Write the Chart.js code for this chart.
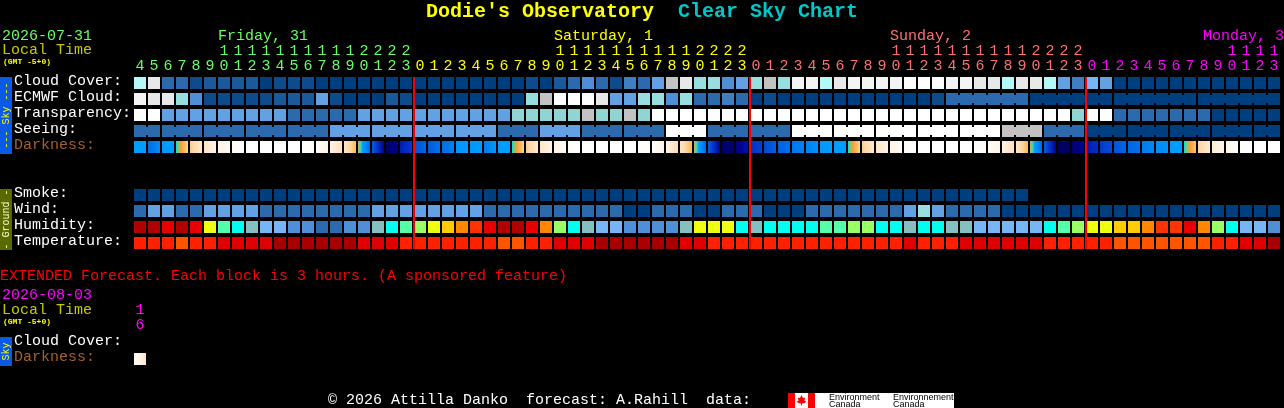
<!DOCTYPE html>
<html>
<head>
<meta charset="utf-8">
<title>Clear Sky Chart</title>
<script src="https://cdn.jsdelivr.net/npm/chart.js@4"></script>
<style>
  html, body { margin: 0; padding: 0; background: #000; }
  canvas { display: block; }
</style>
</head>
<body>
<canvas id="csc" width="1284" height="408"></canvas>
<script>
// Hour of each column, one column per hour
const hours = [
  4,5,6,7,8,9,10,11,12,13,14,15,16,17,18,19,20,21,22,23,
  0,1,2,3,4,5,6,7,8,9,10,11,12,13,14,15,16,17,18,19,20,21,22,23,
  0,1,2,3,4,5,6,7,8,9,10,11,12,13,14,15,16,17,18,19,20,21,22,23,
  0,1,2,3,4,5,6,7,8,9,10,11,12,13
];
const dayNames = ['Friday, 31', 'Saturday, 1', 'Sunday, 2', 'Monday, 3'];
const dayLabelColumn = [6, 30, 54, 78];
const midnightColumns = [20, 44, 68];

// Sky rows are class numbers, see skyColors
const cloudCover = [
  9,11,3,3,1,2,2,2,2,0,1,1,1,0,0,0,0,0,0,0,
  0,0,0,0,0,0,0,0,1,0,2,3,5,3,1,4,3,6,10,11,8,8,5,6,
  8,10,8,12,12,9,11,12,12,12,12,13,13,13,12,12,11,11,9,11,11,9,6,4,
  7,6,0,0,0,0,0,0,0,0,0,0,0,0
];
const ecmwfCloud = [
  12,11,11,8,5,1,1,1,1,1,2,2,2,6,1,0,0,0,2,1,
  0,0,0,0,0,0,0,0,8,10,13,13,13,11,6,6,8,8,5,8,3,3,4,3,
  0,1,0,0,0,0,0,0,0,0,0,0,0,1,3,3,3,3,3,3,0,0,0,0,
  0,0,0,0,0,0,0,0,0,0,0,0,0,0
];
const transparency = [
  13,13,6,6,6,6,6,6,6,6,6,3,3,3,3,3,6,6,6,6,
  6,6,6,6,6,6,6,14,14,14,14,14,10,14,14,10,14,13,13,13,13,13,13,13,
  13,13,13,13,13,13,13,13,13,13,13,13,13,13,13,13,13,13,13,13,13,13,13,14,
  13,13,3,3,3,3,3,3,3,0,0,0,0,0
];
const seeing = [
  3,3,3,3,3,3,3,3,3,3,3,3,3,3,6,6,6,6,6,6,
  6,6,6,6,6,6,3,3,3,6,6,6,3,3,3,3,3,3,13,13,13,3,3,3,
  3,3,3,13,13,13,13,13,13,13,13,13,13,13,13,13,13,13,10,10,10,3,3,3,
  0,0,0,0,0,0,0,0,0,0,0,0,0,0
];
// Darkness level at the left and right side of each block, see darknessRamp
const darknessStart = [
  4.1,3.2,4.0,4.4,5.8,6.5,7,7.5,8,8,8,8,8,7.8,7,6.5,4.9,3,0.3,1.6,
  2.7,2.9,3.2,3.9,4,3.5,4.1,4.4,5.8,6.5,7,7.6,8,8,8,8,8,7.8,7,6.4,4.9,3,0.4,0.8,
  2,2.5,3,3.4,3.6,4,4.1,4.4,5.8,6.5,7,7.6,8,8,8,8,8,7.6,7,6.5,4.9,3,0.2,0.5,
  1.5,2.2,2.8,3.1,3.5,3.8,4.1,4.4,5.9,6.7,7.2,8,8,8
];
const darknessEnd = [
  4.1,3.8,4.1,5.9,6.6,7,7.5,8,8,8,8,8,7.8,7,6.3,5.4,3.1,1,1,2.2,
  3.1,3.3,3.6,4.1,4.1,4,4.1,5.9,6.6,7,7.6,8,8,8,8,8,7.8,7,6.2,5.4,3.1,1,0.5,1.4,
  2.4,3,3.3,3.6,3.9,4.1,4.1,5.9,6.6,7,7.6,8,8,8,8,8,7.8,7,6.3,5.4,3.1,1,0.3,1.1,
  2,2.6,3.1,3.3,3.7,3.9,4.1,5.6,6.7,7.1,7.8,8,8,8
];
const smoke = [
  0,0,0,0,0,0,0,0,0,0,0,0,0,0,0,0,0,0,0,0,
  0,0,0,0,0,0,0,0,0,0,0,0,0,0,0,0,0,0,0,0,0,0,0,0,
  0,0,0,0,0,0,0,0,0,0,0,0,0,0,0,0,0,0,0,0
];
const wind = [
  3,6,6,3,3,6,6,6,6,3,3,3,3,3,3,3,3,6,6,6,
  6,6,6,6,6,3,3,3,3,3,3,3,3,3,3,0,0,3,3,3,0,0,3,3,
  3,0,0,0,3,3,3,3,3,3,3,6,8,6,3,3,3,3,0,0,0,0,0,0,
  0,0,0,0,0,0,0,0,0,0,0,0,0,0
];
// Relative humidity, percent
const humidity = [
  100,100,95,100,95,75,65,60,55,50,50,45,45,40,40,45,45,55,60,65,
  70,75,80,85,90,95,100,100,95,85,70,60,55,50,50,45,45,45,45,55,75,75,75,60,
  55,60,60,60,60,65,65,70,70,60,60,55,60,60,55,55,50,50,50,50,50,60,65,70,
  75,75,80,80,85,90,90,95,85,70,60,50,50,45
];
// Temperature, degrees C
const temperature = [
  28,28,28,31,28,28,25,25,25,25,22,22,22,22,22,22,25,25,25,28,
  28,28,28,28,28,28,31,31,28,28,25,25,25,22,22,22,22,22,22,25,25,28,28,28,
  28,28,28,28,28,28,28,28,28,28,28,25,28,28,28,25,25,25,25,25,25,28,28,28,
  28,28,31,31,31,31,31,31,31,28,28,25,25,22
];
const extendedHours = [16];
const extendedDarknessStart = [7.8];
const extendedDarknessEnd = [6.4];

// 3 hour seeing blocks and 6 hour ECMWF blocks are joined by a neck
const seeingBlockStarts = [0,2,5,8,11,14,17,20,23,26,29,32,35,38,41,44,47,50,53,56,59,62,65,68,71,74,77,80,82];
const ecmwfBlockStarts = [58,64,70,76,82];

const skyColors = ['#003f7f','#0d4b8b','#1a5a9a','#2a6aad','#3f7fc0','#4f8fd5','#62a2e4','#76b6f6',
  '#99dede','#b4f8f8','#c2c2c2','#e8e8e8','#f4f4f4','#ffffff','#90d4d4'];
const humidityColors = {100:'#b00000',95:'#e80000',90:'#ff3300',85:'#ff8800',80:'#ffcc00',75:'#eeff10',
  70:'#99ff66',65:'#55ffaa',60:'#00ffee',55:'#85c0c0',50:'#76b6f6',45:'#4f8fd5',40:'#2a6aad'};
const temperatureColors = {22:'#a80000',25:'#e00000',28:'#ff2000',31:'#ff5500'};
const darknessRamp = [
  [0,'#000050'],[1,'#000090'],[2,'#0030c8'],[3,'#0060e0'],[4,'#0098ff'],[4.3,'#00a4ff'],[4.4,'#00e0d0'],
  [4.6,'#70c890'],[5,'#f8a030'],[6,'#ffd8a8'],[7,'#fff4e6'],[8,'#ffffff']
];

const rowNames = ['Cloud Cover:','ECMWF Cloud:','Transparency:','Seeing:','Darkness:',
  'Smoke:','Wind:','Humidity:','Temperature:','Cloud Cover:','Darkness:'];
const rowPositions = [0,1,2,3,4,7,8,9,10,16.25,17.25];

const FONT = '"Liberation Mono"';
const GREEN = '#66ff66', YELLOW = '#ffff00', SALMON = '#ff7070', MAGENTA = '#ff00ff';
const OLIVE = '#c8c800', BROWN = '#a5602f';
const dayColors = [GREEN, YELLOW, SALMON, MAGENTA];
const dayOfColumn = i => i < midnightColumns[0] ? 0 : i < midnightColumns[1] ? 1 : i < midnightColumns[2] ? 2 : 3;

const cellHalf = 0.375;  // 12px block in a 16px row

function cells(values, row) {
  return values.map((v, i) => ({ x: i, y: [row - cellHalf, row + cellHalf] }));
}

// One row of solid blocks
function rowDataset(values, row, colorOf) {
  return {
    data: cells(values, row),
    backgroundColor: values.map(colorOf),
    barThickness: 12
  };
}

// The short necks between the blocks of a longer forecast step
function neckDataset(values, row, colorOf, blockStarts) {
  const data = [], colors = [];
  blockStarts.slice(0, -1).forEach((start, b) => {
    for (let i = start; i < blockStarts[b + 1] - 1; i++) {
      data.push({ x: i + 0.5, y: [row - 0.25, row + 0.25] });
      colors.push(colorOf(values[i]));
    }
  });
  return { data: data, backgroundColor: colors, barThickness: 2 };
}

// Left to right gradient of one darkness block
function darknessGradient(c, starts, ends) {
  const xs = c.chart.scales.x;
  if (!xs || c.dataIndex === undefined) return '#000';
  const center = xs.getPixelForValue(c.dataIndex);
  if (!isFinite(center)) return '#000';
  const g = c.chart.ctx.createLinearGradient(center - 6, 0, center + 6, 0);
  const from = starts[c.dataIndex], to = ends[c.dataIndex];
  const lo = Math.min(from, to), hi = Math.max(from, to);
  const stops = [[0, from], [1, to]];
  darknessRamp.forEach(s => {
    if (s[0] > lo && s[0] < hi) stops.push([(s[0] - from) / (to - from), s[0]]);
  });
  stops.forEach(s => g.addColorStop(s[0], rampAt(s[1])));
  return g;
}

function rampAt(level) {
  for (let k = 1; k < darknessRamp.length; k++) {
    if (level <= darknessRamp[k][0]) {
      const a = darknessRamp[k - 1], b = darknessRamp[k];
      return mix(a[1], b[1], (level - a[0]) / (b[0] - a[0]));
    }
  }
  return darknessRamp[darknessRamp.length - 1][1];
}

function mix(c1, c2, t) {
  const p = (c, n) => parseInt(c.substr(n, 2), 16);
  const m = n => Math.round(p(c1, n) + (p(c2, n) - p(c1, n)) * t);
  return 'rgb(' + m(1) + ',' + m(3) + ',' + m(5) + ')';
}

const sky = v => skyColors[v];
const hum = v => humidityColors[v];
const tmp = v => temperatureColors[v];

const datasets = [
  // midnight lines go first so they stay on top
  {
    data: midnightColumns.map(i => ({ x: i - 3 / 7, y: [-cellHalf, 10 + cellHalf] })),
    backgroundColor: '#ff0000',
    barThickness: 2
  },
  rowDataset(cloudCover, 0, sky),
  rowDataset(ecmwfCloud, 1, sky),
  neckDataset(ecmwfCloud, 1, sky, ecmwfBlockStarts),
  rowDataset(transparency, 2, sky),
  rowDataset(seeing, 3, sky),
  neckDataset(seeing, 3, sky, seeingBlockStarts),
  {
    data: cells(darknessStart, 4),
    backgroundColor: c => darknessGradient(c, darknessStart, darknessEnd),
    barThickness: 12
  },
  rowDataset(smoke, 7, sky),
  rowDataset(wind, 8, sky),
  rowDataset(humidity, 9, hum),
  rowDataset(temperature, 10, tmp),
  {
    data: cells(extendedDarknessStart, 17.25),
    backgroundColor: c => darknessGradient(c, extendedDarknessStart, extendedDarknessEnd),
    barThickness: 12
  }
];

// Everything the axes can't place: headings, side bars, logo
const sideBars = [
  { top: 77, bottom: 154, color: '#0a5ae6', text: '--- Sky ---', textColor: YELLOW },
  { top: 189, bottom: 250, color: '#5a6a00', text: '- Ground -', textColor: '#ffffd0' },
  { top: 337, bottom: 366, color: '#0a5ae6', text: 'Sky', textColor: YELLOW }
];

const textPlugin = {
  id: 'cscText',
  afterDraw(chart) {
    const ctx = chart.ctx;
    const xs = chart.scales.x;
    const put = (text, x, y, color, font) => {
      ctx.font = font || '15px ' + FONT;
      ctx.fillStyle = color;
      ctx.fillText(text, x, y);
    };
    ctx.save();
    ctx.textAlign = 'left';
    ctx.textBaseline = 'middle';

    put("Dodie's Observatory", 426, 12, YELLOW, 'bold 20px ' + FONT);
    put('Clear Sky Chart', 678, 12, '#00c8c8', 'bold 20px ' + FONT);

    put('2026-07-31', 2, 36, GREEN);
    put('Local Time', 2, 50, OLIVE);
    put('(GMT -5+0)', 3, 62, YELLOW, 'bold 8px ' + FONT);

    dayNames.forEach((name, d) => {
      const x = xs.getPixelForValue(dayLabelColumn[d]) - 6;
      ctx.font = '15px ' + FONT;
      put(name, Math.min(x, 1284 - ctx.measureText(name).width), 36, dayColors[d]);
    });

    put('EXTENDED Forecast. Each block is 3 hours. (A sponsored feature)', 0, 276, '#ff0000');
    put('2026-08-03', 2, 295, MAGENTA);
    put('Local Time', 2, 310, OLIVE);
    put('(GMT -5+0)', 3, 322, YELLOW, 'bold 8px ' + FONT);
    extendedHours.forEach((h, i) => {
      const x = xs.getPixelForValue(i) - 4.5;
      put(String(h)[0], x, 310, MAGENTA);
      put(String(h)[1], x, 325, MAGENTA);
    });

    put('\u00a9 2026 Attilla Danko  forecast: A.Rahill  data:', 328, 400, '#ffffff');

    sideBars.forEach(b => {
      ctx.fillStyle = b.color;
      ctx.fillRect(0, b.top, 12, b.bottom - b.top);
      ctx.save();
      ctx.translate(6, (b.top + b.bottom) / 2);
      ctx.rotate(-Math.PI / 2);
      ctx.textAlign = 'center';
      put(b.text, 0, 0, b.textColor, '10px ' + FONT);
      ctx.restore();
    });

    // Environment Canada logo
    ctx.fillStyle = '#ffffff';
    ctx.fillRect(788, 393, 166, 15);
    ctx.fillStyle = '#ff0000';
    ctx.fillRect(788, 393, 7, 15);
    ctx.fillRect(808, 393, 7, 15);
    ctx.beginPath();
    [[801.5,395],[803,398],[805,397.5],[804.5,401],[806,401],[805,403],[802,403.5],[802,405.5],
     [801,405.5],[801,403.5],[798,403],[797,401],[798.5,401],[798,397.5],[800,398]].forEach((p, i) => {
      if (i) ctx.lineTo(p[0], p[1]); else ctx.moveTo(p[0], p[1]);
    });
    ctx.closePath();
    ctx.fill();
    ['Environment', 'Environnement'].forEach((t, i) => {
      const x = i ? 893 : 829;
      put(t, x, 397.5, '#000000', '9px "Liberation Sans"');
      put('Canada', x, 404.5, '#000000', '9px "Liberation Sans"');
    });
    ctx.restore();
  }
};

new Chart(document.getElementById('csc'), {
  type: 'bar',
  data: { datasets: datasets },
  plugins: [textPlugin],
  options: {
    responsive: false,
    animation: false,
    events: [],
    layout: { padding: { left: 14, right: 3, top: 0, bottom: 41 } },
    datasets: { bar: { grouped: false, inflateAmount: 0, borderWidth: 0 } },
    plugins: { legend: { display: false }, tooltip: { enabled: false }, title: { display: false } },
    scales: {
      x: {
        type: 'linear',
        position: 'top',
        offset: false,
        min: -0.5,
        max: 81.5,
        grid: { display: false, drawTicks: false },
        border: { display: false },
        afterFit: s => { s.height = 75; },
        afterBuildTicks: s => { s.ticks = hours.map((h, i) => ({ value: i })); },
        ticks: {
          autoSkip: false,
          maxRotation: 0,
          padding: 1,
          font: { family: FONT, size: 15, lineHeight: '15px' },
          color: c => dayColors[dayOfColumn(c.index)],
          callback: (v, i) => {
            const h = hours[i];
            return h < 10 ? ['', String(h)] : [String(h)[0], String(h)[1]];
          }
        }
      },
      y: {
        type: 'linear',
        reverse: true,
        min: -0.5,
        max: 17.75,
        grid: { display: false, drawTicks: false },
        border: { display: false },
        afterFit: s => { s.width = 119; },
        afterBuildTicks: s => { s.ticks = rowPositions.map(p => ({ value: p })); },
        ticks: {
          autoSkip: false,
          crossAlign: 'far',
          padding: 0,
          labelOffset: -2,
          font: { family: FONT, size: 15 },
          color: c => rowNames[rowPositions.indexOf(c.tick.value)] === 'Darkness:' ? BROWN : '#ffffff',
          callback: v => rowNames[rowPositions.indexOf(v)]
        }
      }
    }
  }
});
</script>
</body>
</html>
